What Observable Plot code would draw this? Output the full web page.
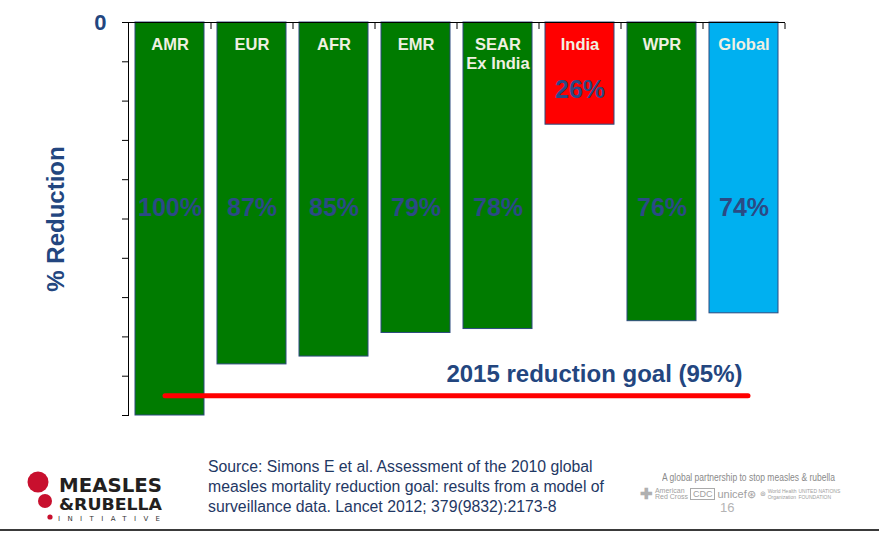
<!DOCTYPE html>
<html>
<head>
<meta charset="utf-8">
<script src="https://cdn.jsdelivr.net/npm/d3@7"></script>
<script src="https://cdn.jsdelivr.net/npm/@observablehq/plot@0.6"></script>
<style>
  html, body { margin: 0; padding: 0; background: #ffffff; }
  #page { position: relative; width: 879px; height: 533px; overflow: hidden; background: #fff; font-family: "Liberation Sans", Arial, sans-serif; }
  #chart { position: absolute; left: 0; top: 0; }
  #source { position: absolute; left: 208px; top: 457px; font-size: 15.8px; line-height: 20px; color: #1f3864; }
  #partner { position: absolute; left: 662px; top: 472px; font-size: 10px; color: #8a8a8a; white-space: nowrap; transform: scaleX(0.85); transform-origin: left top; }
  #logos { position: absolute; left: 640px; top: 485px; font-size: 7px; color: #a0a0a0; white-space: nowrap; }
  #pagenum { position: absolute; left: 720px; top: 500px; font-size: 13px; color: #b4b4b4; }
  #rule { position: absolute; left: 0; top: 529px; width: 879px; height: 2px; background: #3a3a3a; }
  #logo { position: absolute; left: 0; top: 455px; }
</style>
</head>
<body>
<div id="page">
  <div id="chart"></div>
  <svg id="logo" width="180" height="75">
    <circle cx="38" cy="27" r="10.5" fill="#c8102e"></circle>
    <circle cx="45" cy="46" r="7" fill="#c8102e"></circle>
    <circle cx="50" cy="62" r="2.6" fill="#c8102e"></circle>
    <text x="59" y="37" font-family="DejaVu Sans Condensed, DejaVu Sans" font-weight="bold" font-size="19.5" fill="#231f20" textLength="103" lengthAdjust="spacingAndGlyphs">MEASLES</text>
    <text x="59" y="55" font-family="DejaVu Sans Condensed, DejaVu Sans" font-weight="bold" font-size="15" fill="#231f20" textLength="103" lengthAdjust="spacingAndGlyphs">&amp;RUBELLA</text>
    <text x="58" y="65.5" font-family="DejaVu Sans, sans-serif" font-size="7" fill="#333" textLength="102" lengthAdjust="spacing">INITIATIVE</text>
  </svg>
  <div id="source">Source: Simons E et al. Assessment of the 2010 global<br>measles mortality reduction goal: results from a model of<br>surveillance data. Lancet 2012; 379(9832):2173-8</div>
  <div id="partner">A global partnership to stop measles &amp; rubella</div>
  <div id="logos"><span style="font-size:15px;font-weight:bold;color:#b0b0b0;vertical-align:middle">✚</span> <span style="display:inline-block;line-height:6px;vertical-align:middle">American<br>Red Cross</span> <span style="border:1px solid #aaa;padding:0 2px;font-size:9px;vertical-align:middle">CDC</span> <span style="font-size:11px;vertical-align:middle">unicef⊛</span> &nbsp;<span style="vertical-align:middle">⊛ <span style="display:inline-block;line-height:6px;vertical-align:middle;font-size:5px">World Health<br>Organization</span></span> <span style="display:inline-block;line-height:6px;vertical-align:middle;font-size:5px">UNITED NATIONS<br>FOUNDATION</span></div>
  <div id="pagenum">16</div>
  <div id="rule"></div>
</div>
<script>
// ---- data ----
const categories = ["AMR", "EUR", "AFR", "EMR", "SEAR\nEx India", "India", "WPR", "Global"];
const reductions = [100, 87, 85, 79, 78, 26, 76, 74];
const groups = ["region", "region", "region", "region", "region", "India", "region", "Global"];
const yTicks = [0, 10, 20, 30, 40, 50, 60, 70, 80, 90, 100];
const goalValue = 95;
const goalLabel = "2015 reduction goal (95%)";
const yAxisLabel = "% Reduction";

const data = categories.map((c, i) => ({cat: c, value: reductions[i], group: groups[i], label: reductions[i] + "%"}));

const textBlue = "#23467f";
const labelY = v => Math.min(47.2, v - 8.7);

const chart = Plot.plot({
  width: 879,
  height: 430,
  marginTop: 22,
  marginBottom: 15,
  marginLeft: 128,
  marginRight: 95,
  style: {fontFamily: "'Liberation Sans', Arial, sans-serif", background: "transparent", overflow: "visible"},
  x: {domain: categories, paddingInner: 0.16, paddingOuter: 0.08, axis: null},
  y: {domain: [0, 100], reverse: true, axis: null},
  color: {domain: ["region", "India", "Global"], range: ["#007b00", "#ff0000", "#00b0f0"]},
  marks: [
    Plot.barY(data, {x: "cat", y: "value", fill: "group", stroke: "#2c4a7e", strokeWidth: 1}),
    Plot.frame({anchor: "left", stroke: "black"}),
    Plot.frame({anchor: "top", stroke: "black"}),
    Plot.axisY(yTicks, {tickSize: 6, tickFormat: () => "", label: null, stroke: "black"}),
    Plot.axisX({anchor: "top", tickSize: -6, dx: 41, tickFormat: () => "", label: null, stroke: "black"}),
    Plot.text(["0"], {y: () => 0, frameAnchor: "left", dx: -22, textAnchor: "end", fontSize: 22, fontWeight: "bold", fill: textBlue}),
    Plot.text([yAxisLabel], {frameAnchor: "left", rotate: -90, dx: -72, textAnchor: "middle", fontSize: 24, fontWeight: "bold", fill: textBlue}),
    Plot.text(data, {x: "cat", y: () => 0, text: "cat", lineAnchor: "top", dy: 14, lineHeight: 1.15, fontSize: 16.5, fontWeight: "bold", fill: "#f0f0e2"}),
    Plot.text(data, {x: "cat", y: d => labelY(d.value), text: "label", fontSize: 25, fontWeight: "bold", fill: "#2b4a85"}),
    Plot.ruleY([goalValue], {insetLeft: 37, insetRight: 36, stroke: "#ff0000", strokeWidth: 5, strokeLinecap: "round"}),
    Plot.text([goalLabel], {y: () => goalValue, frameAnchor: "right", dx: -42, dy: -22, textAnchor: "end", fontSize: 24, fontWeight: "bold", fill: textBlue})
  ]
});
document.getElementById("chart").appendChild(chart);
</script>
</body>
</html>
